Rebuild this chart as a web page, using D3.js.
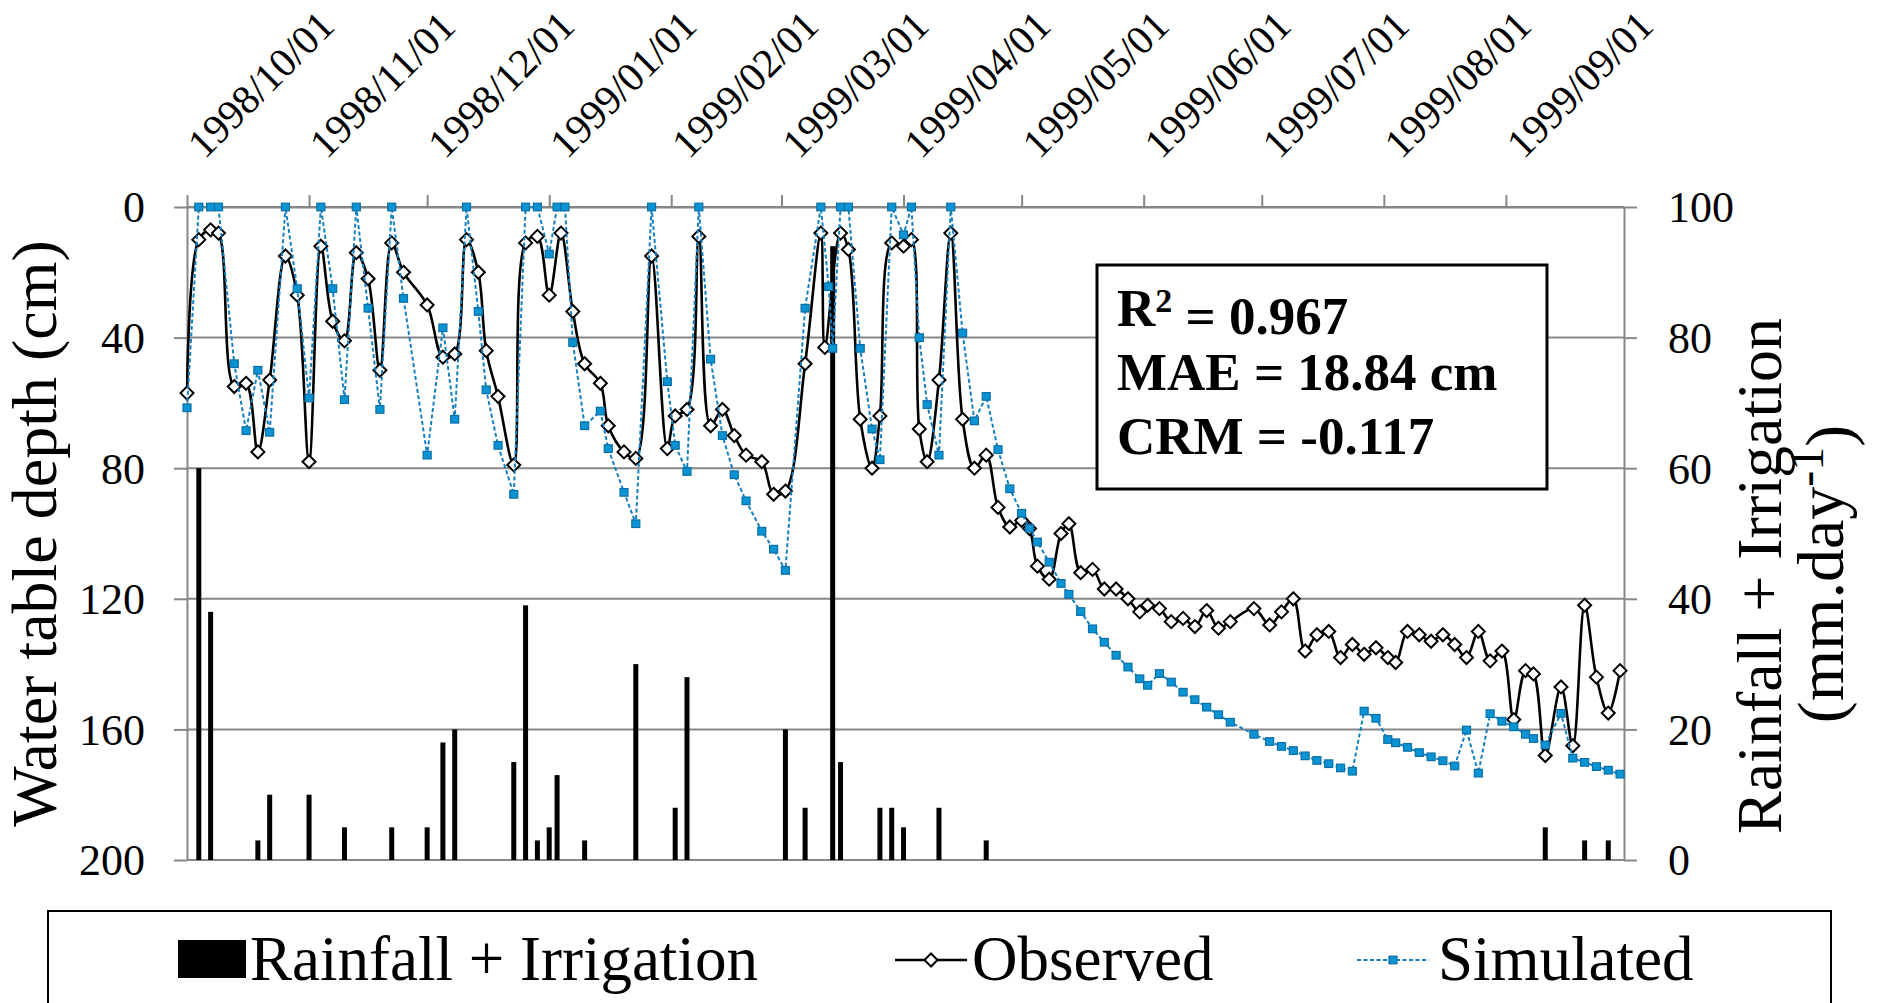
<!DOCTYPE html>
<html><head><meta charset="utf-8">
<script src="https://cdn.jsdelivr.net/npm/d3@7"></script>
<style>
html,body{margin:0;padding:0;background:#fff;}
svg{display:block;}
text{font-family:"Liberation Serif","Times New Roman",serif;fill:#000;}
</style>
</head><body>
<svg id="chart" width="1883" height="1003"></svg>
<script>
// ---------------- DATA ----------------
const monthTicks = ["1998-10-01","1998-11-01","1998-12-01","1999-01-01","1999-02-01","1999-03-01","1999-04-01","1999-05-01","1999-06-01","1999-07-01","1999-08-01","1999-09-01"];
const depthTicks = [0,40,80,120,160,200];
const rainTicks = [0,20,40,60,80,100];

const obsDates = ["1998-10-01","1998-10-04","1998-10-07","1998-10-09","1998-10-13","1998-10-16","1998-10-19","1998-10-22","1998-10-26","1998-10-29",
"1998-11-01","1998-11-04","1998-11-07","1998-11-10","1998-11-13","1998-11-16","1998-11-19","1998-11-22","1998-11-25",
"1998-12-01","1998-12-05","1998-12-08","1998-12-11","1998-12-14","1998-12-16","1998-12-19","1998-12-23","1998-12-26","1998-12-29",
"1999-01-01","1999-01-04","1999-01-07","1999-01-10","1999-01-14","1999-01-16","1999-01-20","1999-01-23","1999-01-27","1999-01-31",
"1999-02-02","1999-02-05","1999-02-08","1999-02-11","1999-02-14","1999-02-17","1999-02-20","1999-02-24","1999-02-27",
"1999-03-02","1999-03-07","1999-03-11","1999-03-12","1999-03-16","1999-03-18","1999-03-21","1999-03-24","1999-03-26","1999-03-29",
"1999-04-01","1999-04-03","1999-04-05","1999-04-07","1999-04-10","1999-04-13","1999-04-16","1999-04-19","1999-04-22","1999-04-25","1999-04-28",
"1999-05-01","1999-05-03","1999-05-05","1999-05-08","1999-05-11","1999-05-13","1999-05-16","1999-05-19","1999-05-22","1999-05-25","1999-05-28","1999-05-31",
"1999-06-02","1999-06-05","1999-06-08","1999-06-11","1999-06-14","1999-06-17","1999-06-20","1999-06-23","1999-06-29",
"1999-07-03","1999-07-06","1999-07-09","1999-07-12","1999-07-15","1999-07-18","1999-07-21","1999-07-24","1999-07-27","1999-07-30",
"1999-08-02","1999-08-04","1999-08-07","1999-08-10","1999-08-13","1999-08-16","1999-08-19","1999-08-22","1999-08-25","1999-08-28","1999-08-31",
"1999-09-03","1999-09-06","1999-09-08","1999-09-11","1999-09-15","1999-09-18","1999-09-21","1999-09-24","1999-09-27","1999-09-30"];
const obsDepth = [57,10,7,8,55,54,75,53,15,27,
78,12,35,41,14,22,50,11,20,
30,46,45,10,20,44,58,79,11,9,
27,8,32,48,54,67,75,77,15,74,
64,62,9,67,62,70,76,78,88,
87,48,8,43,8,13,65,80,64,11,
12,10,68,78,53,8,65,80,76,92,98,
96,98.5,110,114,100,97,112,111,117,117,120,124,
122,123,127,126,128.5,123.6,129,127,123,
128,124,120,136,131,130,138,134,137,135,
138,139.5,130,131,133,131,134,138,130,139,136,
157,142,143,168,147,165,122,144,155,142];

const simDates = ["1998-10-01","1998-10-04","1998-10-07","1998-10-09","1998-10-13","1998-10-16","1998-10-19","1998-10-22","1998-10-26","1998-10-29",
"1998-11-01","1998-11-04","1998-11-07","1998-11-10","1998-11-13","1998-11-16","1998-11-19","1998-11-22","1998-11-25",
"1998-12-01","1998-12-05","1998-12-08","1998-12-11","1998-12-14","1998-12-16","1998-12-19","1998-12-23","1998-12-26","1998-12-29",
"1999-01-01","1999-01-03","1999-01-05","1999-01-07","1999-01-10","1999-01-14","1999-01-16","1999-01-20","1999-01-23","1999-01-27","1999-01-31",
"1999-02-02","1999-02-05","1999-02-08","1999-02-11","1999-02-14","1999-02-17","1999-02-20","1999-02-24","1999-02-27",
"1999-03-02","1999-03-07","1999-03-11","1999-03-13","1999-03-14","1999-03-16","1999-03-18","1999-03-21","1999-03-24","1999-03-26","1999-03-29",
"1999-04-01","1999-04-03","1999-04-05","1999-04-07","1999-04-10","1999-04-13","1999-04-16","1999-04-19","1999-04-22","1999-04-25","1999-04-28",
"1999-05-01","1999-05-03","1999-05-05","1999-05-08","1999-05-11","1999-05-13","1999-05-16","1999-05-19","1999-05-22","1999-05-25","1999-05-28","1999-05-31",
"1999-06-02","1999-06-05","1999-06-08","1999-06-11","1999-06-14","1999-06-17","1999-06-20","1999-06-23","1999-06-29",
"1999-07-03","1999-07-06","1999-07-09","1999-07-12","1999-07-15","1999-07-18","1999-07-21","1999-07-24","1999-07-27","1999-07-30",
"1999-08-02","1999-08-04","1999-08-07","1999-08-10","1999-08-13","1999-08-16","1999-08-19","1999-08-22","1999-08-25","1999-08-28","1999-08-31",
"1999-09-03","1999-09-06","1999-09-08","1999-09-11","1999-09-15","1999-09-18","1999-09-21","1999-09-24","1999-09-27","1999-09-30"];
const simDepth = [61.5,0,0,0,48,68.5,50,69,0,25,
58.5,0,25,59,0,31,62,0,28,
76,37,65,0,32,56,73,88,0,0,
14.4,0,0,41.5,67,62.5,74,87.4,97,0,53.5,
73,81,0,46.6,70,82,90,99.3,104.8,
111.3,31,0,24.4,43.3,0,0,43.3,68,77.4,0,
8.5,0,40,60.5,76,0,38.6,65.5,58,74.3,86.3,
93.8,98.4,102.6,108.8,115.3,118.6,123.9,129.2,133.3,137.3,140.9,144.5,
146.5,142.9,145.5,148.6,150.9,153.2,155.5,157.8,161.5,
163.7,165.2,166.5,168.1,169.5,170.5,171.8,172.8,154.4,156.6,
163.1,164.1,165.5,167.1,168.4,169.6,171.2,160.2,173.4,155.2,157.5,
159.2,161.5,162.8,164.8,155.1,168.8,170.1,171.4,172.5,173.7];

const rainDates = ["1998-10-04","1998-10-07","1998-10-19","1998-10-22","1998-11-01","1998-11-10","1998-11-22","1998-12-01","1998-12-05","1998-12-08",
"1998-12-23","1998-12-26","1998-12-29","1999-01-01","1999-01-03","1999-01-10","1999-01-23","1999-02-02","1999-02-05","1999-03-02",
"1999-03-07","1999-03-14","1999-03-16","1999-03-26","1999-03-29","1999-04-01","1999-04-10","1999-04-22","1999-09-11","1999-09-21","1999-09-27"];
const rainValues = [60,38,3,10,10,5,5,5,18,20,
15,39,3,5,13,3,30,8,28,20,
8,94,15,8,8,5,8,3,5,3,3];

// ---------------- LAYOUT ----------------
const L = 187, R = 1624, T = 207, B = 860;
const GRID = "#878787";
const SERIF = "'Liberation Serif','Times New Roman',serif";
const BLUE_LINE = "#1580C0", BLUE_FILL = "#0A94D4", BLUE_EDGE = "#0A6FA6";

const parse = d3.timeParse("%Y-%m-%d");
const fmt = d3.timeFormat("%Y/%m/%d");
const svg = d3.select("#chart");

const x = d3.scaleTime().domain([parse("1998-10-01"), parse("1999-10-01")]).range([L, R]);
const y = d3.scaleLinear().domain([0, 200]).range([T, B]);
const yr = d3.scaleLinear().domain([0, 100]).range([B, T]);

// gridlines
svg.append("g").selectAll("line").data(depthTicks).join("line")
  .attr("x1", L).attr("x2", R).attr("y1", d => y(d)).attr("y2", d => y(d))
  .attr("stroke", GRID).attr("stroke-width", 2);

// top (date) axis
const gx = svg.append("g").attr("transform", `translate(0,${T})`)
  .call(d3.axisTop(x).tickValues(monthTicks.map(parse)).tickSize(12).tickSizeOuter(0).tickFormat(fmt))
  .attr("font-family", SERIF).attr("font-size", 41);
gx.selectAll("path,line").attr("stroke", GRID).attr("stroke-width", 2);
gx.selectAll("text").attr("x", 0).attr("y", 0).attr("dy", 0)
  .attr("text-anchor", "start")
  .attr("transform", "translate(17,-47) rotate(-45)")
  .attr("fill", "#000");

// left axis
const gy = svg.append("g").attr("transform", `translate(${L},0)`)
  .call(d3.axisLeft(y).tickValues(depthTicks).tickSize(13).tickPadding(29).tickSizeOuter(0))
  .attr("font-family", SERIF).attr("font-size", 44);
gy.selectAll("path,line").attr("stroke", GRID).attr("stroke-width", 2);
gy.selectAll("text").attr("fill", "#000").attr("dy", "0.34em");

// right axis
const gr = svg.append("g").attr("transform", `translate(${R},0)`)
  .call(d3.axisRight(yr).tickValues(rainTicks).tickSize(13).tickPadding(31).tickSizeOuter(0))
  .attr("font-family", SERIF).attr("font-size", 44);
gr.selectAll("path,line").attr("stroke", GRID).attr("stroke-width", 2);
gr.selectAll("text").attr("fill", "#000").attr("dy", "0.34em");

// bars
const rain = rainDates.map((d, i) => ({ date: parse(d), v: rainValues[i] }));
svg.append("g").selectAll("rect").data(rain).join("rect")
  .attr("x", d => x(d.date) - 2.5).attr("width", 5)
  .attr("y", d => yr(d.v)).attr("height", d => B - yr(d.v))
  .attr("fill", "#000");

// observed
const obs = obsDates.map((d, i) => ({ date: parse(d), v: obsDepth[i] }));
svg.append("path").datum(obs)
  .attr("d", d3.line().x(d => x(d.date)).y(d => y(d.v)).curve(d3.curveCatmullRom.alpha(0.5)))
  .attr("fill", "none").attr("stroke", "#000").attr("stroke-width", 2.6);
const diamond = "M0,-6.5L6.5,0L0,6.5L-6.5,0Z";
svg.append("g").selectAll("path").data(obs).join("path")
  .attr("d", diamond).attr("transform", d => `translate(${x(d.date)},${y(d.v)})`)
  .attr("fill", "#fff").attr("stroke", "#000").attr("stroke-width", 2);

// simulated
const sim = simDates.map((d, i) => ({ date: parse(d), v: simDepth[i] }));
svg.append("path").datum(sim)
  .attr("d", d3.line().x(d => x(d.date)).y(d => y(d.v)))
  .attr("fill", "none").attr("stroke", BLUE_LINE).attr("stroke-width", 2).attr("stroke-dasharray", "4,2.5");
svg.append("g").selectAll("rect").data(sim).join("rect")
  .attr("x", d => x(d.date) - 4).attr("y", d => y(d.v) - 3.8).attr("width", 8).attr("height", 7.6)
  .attr("fill", BLUE_FILL).attr("stroke", BLUE_EDGE).attr("stroke-width", 1.2);

// axis titles
svg.append("text").attr("transform", `translate(56,${(T + B) / 2}) rotate(-90)`)
  .attr("text-anchor", "middle").style("font-size", "64px").text("Water table depth (cm)");
svg.append("text").attr("transform", `translate(1781,576) rotate(-90)`)
  .attr("text-anchor", "middle").style("font-size", "64px").text("Rainfall + Irrigation");
const t2 = svg.append("text").attr("transform", `translate(1843,574) rotate(-90)`)
  .attr("text-anchor", "middle").style("font-size", "66px");
t2.append("tspan").text("(mm.day");
t2.append("tspan").attr("dy", "-0.42em").style("font-size", "48px").text("-1");
t2.append("tspan").attr("dy", "0.42em").text(")");

// stats box
const statLines = [["R", "2", " = 0.967"], ["MAE = 18.84 cm"], ["CRM = -0.117"]];
svg.append("rect").attr("x", 1097).attr("y", 265).attr("width", 450).attr("height", 224)
  .attr("fill", "#fff").attr("stroke", "#000").attr("stroke-width", 3);
statLines.forEach((ln, i) => {
  const t = svg.append("text").attr("x", 1117).attr("y", 326 + i * 64)
    .style("font-size", "53px").style("font-weight", "bold");
  if (ln.length === 3) {
    t.append("tspan").text(ln[0]);
    t.append("tspan").attr("dy", "-0.42em").style("font-size", "34px").text(ln[1]);
    t.append("tspan").attr("dy", "0.42em").text(ln[2]);
  } else t.text(ln[0]);
});

// legend
svg.append("rect").attr("x", 48).attr("y", 911).attr("width", 1783).attr("height", 200)
  .attr("fill", "#fff").attr("stroke", "#000").attr("stroke-width", 2);
const LY = 960;
svg.append("rect").attr("x", 178).attr("y", 940).attr("width", 68).attr("height", 38).attr("fill", "#000");
svg.append("text").attr("x", 250).attr("y", 980).style("font-size", "63px").text("Rainfall + Irrigation");
svg.append("line").attr("x1", 895).attr("x2", 967).attr("y1", LY).attr("y2", LY).attr("stroke", "#000").attr("stroke-width", 2.6);
svg.append("path").attr("d", diamond).attr("transform", `translate(931,${LY})`).attr("fill", "#fff").attr("stroke", "#000").attr("stroke-width", 2);
svg.append("text").attr("x", 972).attr("y", 980).style("font-size", "63px").text("Observed");
svg.append("line").attr("x1", 1357).attr("x2", 1429).attr("y1", LY).attr("y2", LY).attr("stroke", BLUE_LINE).attr("stroke-width", 2).attr("stroke-dasharray", "4,2.5");
svg.append("rect").attr("x", 1389).attr("y", LY - 3.8).attr("width", 8).attr("height", 7.6).attr("fill", BLUE_FILL).attr("stroke", BLUE_EDGE).attr("stroke-width", 1.2);
svg.append("text").attr("x", 1438).attr("y", 980).style("font-size", "63px").text("Simulated");
</script>
</body></html>
